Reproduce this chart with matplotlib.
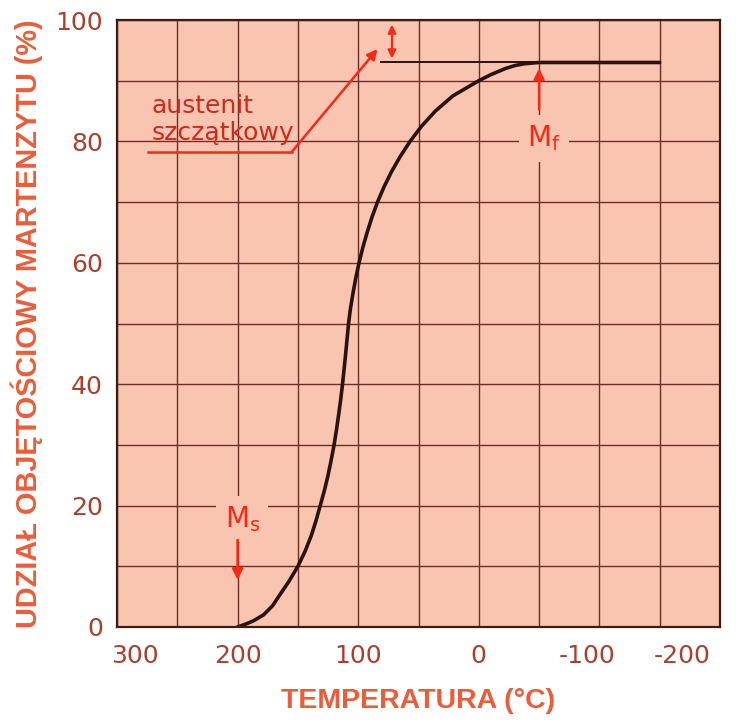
import matplotlib
matplotlib.use('Agg')
import matplotlib.pyplot as plt
from matplotlib.transforms import ScaledTranslation

# curve: martensite volume fraction (%) and temperature (deg C)
frac = [0, 0.5, 1, 2, 3.5, 5, 7.5, 10, 12.5, 15, 17.5, 20, 22.5, 25, 27.5, 30,
        32.5, 35, 37.5, 40, 42.5, 45, 47.5, 50, 52.5, 55, 57.5, 60, 62.5, 65,
        67.5, 70, 72.5, 75, 77.5, 80, 82.5, 85, 87.5, 90, 91, 92, 92.5, 92.8, 93, 93]
temp = [200, 193, 187, 178.5, 171, 166, 157.5, 150, 144, 139, 135, 131.5, 128, 125, 122.4, 120,
        118, 116.2, 114.5, 113, 111.7, 110.4, 109.2, 108, 106.4, 104.3, 102, 99.3, 96.2, 92.6,
        88.6, 84, 78.6, 72.4, 65.2, 57, 47.5, 36, 21.5, 0, -10, -22, -30, -38, -50, -150]

plateau_T = [81, -50]
plateau_val = 93

Ms = 200
Mf = -50

xticks = [300, 200, 100, 0, -100, -200]
yticks = [0, 20, 40, 60, 80, 100]

bg = '#f9c4b0'
grid_c = '#6b2f26'
tick_c = '#a9402f'
label_c = '#ea5d3a'
red = '#f42a18'
text_red = '#cc2a1c'

fig = plt.figure(figsize=(7.39, 7.22), dpi=100)
ax = fig.add_axes([117 / 739, 1 - 627 / 722, 603 / 739, 607 / 722])
ax.set_facecolor(bg)

ax.set_xlim(300, -200)
ax.set_ylim(0, 100)
ax.set_xticks(xticks)
ax.set_xticks([250, 150, 50, -50, -150], minor=True)
ax.set_yticks(yticks)
ax.set_yticks([10, 30, 50, 70, 90], minor=True)
ax.grid(True, which='both', color=grid_c, lw=1.0)
ax.set_axisbelow(True)
ax.tick_params(which='both', length=0)
ax.tick_params(axis='y', pad=10, labelsize=18, labelcolor=tick_c)
ax.tick_params(axis='x', pad=12, labelsize=18, labelcolor=tick_c)
ax.set_xticklabels([str(t) for t in xticks])
for sp in ax.spines.values():
    sp.set_color('#3b1d18')
    sp.set_linewidth(1.6)

# the end labels sit inside the frame in the original
shifts = {0: 18, 4: -12, 5: -38}
for i, lab in enumerate(ax.get_xticklabels()):
    if i in shifts:
        lab.set_transform(lab.get_transform() + ScaledTranslation(shifts[i] / 100, 0, fig.dpi_scale_trans))

ax.set_xlabel('TEMPERATURA (°C)', fontsize=20.5, fontweight='bold', family='Liberation Sans',
              color=label_c, labelpad=15)
ax.set_ylabel('UDZIAŁ OBJĘTOŚCIOWY MARTENZYTU (%)', fontsize=20.8, fontweight='bold',
              family='Liberation Sans', color=label_c, labelpad=9)

# plateau guide and curve
ax.plot(plateau_T, [plateau_val, plateau_val], color='#2a1210', lw=1.4)
ax.plot(temp, frac, color='#2a1210', lw=2.6, solid_capstyle='round', solid_joinstyle='round')

# Ms marker
ax.text(Ms - 4, 17.8, r'$\mathregular{M_s}$', fontsize=20, color=red, ha='center', va='center',
        bbox=dict(facecolor=bg, edgecolor='none', pad=6))
ax.annotate('', xy=(Ms, 7.3), xytext=(Ms, 14.8),
            arrowprops=dict(arrowstyle='-|>', color=red, lw=1.8, mutation_scale=16))

# Mf marker
ax.text(Mf - 4, 80.5, r'$\mathregular{M_f}$', fontsize=20, color=red, ha='center', va='center',
        bbox=dict(facecolor=bg, edgecolor='none', pad=6))
ax.annotate('', xy=(Mf, 92.5), xytext=(Mf, 84.8),
            arrowprops=dict(arrowstyle='-|>', color=red, lw=1.8, mutation_scale=16))

# retained austenite
ax.annotate('', xy=(72, 99.7), xytext=(72, 93.2),
            arrowprops=dict(arrowstyle='<|-|>', color=red, lw=1.6, mutation_scale=12))
ax.plot([274, 155], [78.3, 78.3], color=red, lw=1.8)
ax.annotate('', xy=(84, 95.2), xytext=(155, 78.3),
            arrowprops=dict(arrowstyle='-|>', color=red, lw=1.8, mutation_scale=15,
                            shrinkA=0, shrinkB=0))
ax.text(271, 84.7, 'austenit', fontsize=18, color=text_red, ha='left', va='baseline')
ax.text(271, 80.2, 'szczątkowy', fontsize=18, color=text_red, ha='left', va='baseline')

fig.savefig('out.png', dpi=100)
